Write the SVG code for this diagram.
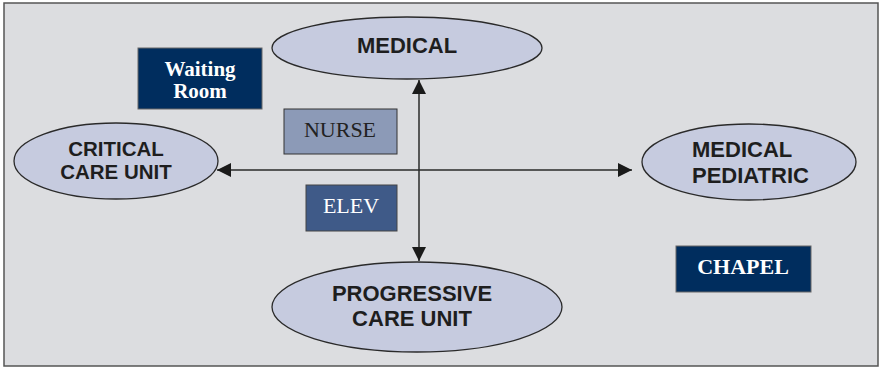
<svg xmlns="http://www.w3.org/2000/svg" width="881" height="369" viewBox="0 0 881 369">
<style>
.ell{fill:#c6cbdf;stroke:#2a2a2a;stroke-width:1.3}
.et{font-family:"Liberation Sans",Arial,sans-serif;font-weight:bold;font-size:22px;fill:#1e1e1e;text-anchor:middle}
.st{text-anchor:start}
.rt{font-family:"Liberation Serif","Times New Roman",serif;font-size:22px;text-anchor:middle}
.wr{font-size:21px;font-weight:bold;fill:#fff}
.conn{stroke:#2a2a2a;stroke-width:1.5;fill:none}
</style>
<defs>
<marker id="ahs" viewBox="0 0 10 10" refX="10" refY="5" markerWidth="14" markerHeight="14" markerUnits="userSpaceOnUse" orient="auto-start-reverse">
<path d="M0,0 L10,5 L0,10 z" fill="#1a1a1a"/>
</marker>
</defs>
<rect x="4" y="3" width="874" height="363" fill="#dcdde0" stroke="#555" stroke-width="1.5"/>
<g id="connectors">
<line class="conn" x1="419" y1="80" x2="419" y2="261" marker-start="url(#ahs)" marker-end="url(#ahs)"/>
<line class="conn" x1="217" y1="170" x2="632" y2="170" marker-start="url(#ahs)" marker-end="url(#ahs)"/>
</g>
<g id="waiting-room">
<rect x="138" y="48" width="124" height="61" fill="#002d5e" stroke="#666" stroke-width="1"/>
<text class="rt wr" x="200" y="76">Waiting</text>
<text class="rt wr" x="200" y="98">Room</text>
</g>
<g id="medical">
<ellipse class="ell" cx="407" cy="48" rx="135" ry="31"/>
<text class="et" x="407" y="53">MEDICAL</text>
</g>
<g id="nurse">
<rect x="284" y="109" width="113" height="45" fill="#8c9ab7" stroke="#333" stroke-width="1"/>
<text class="rt" x="340" y="137" fill="#222">NURSE</text>
</g>
<g id="critical-care-unit">
<ellipse class="ell" cx="116" cy="161" rx="102" ry="38"/>
<text class="et" x="116" y="156" style="font-size:20.5px">CRITICAL</text>
<text class="et" x="116" y="179" style="font-size:20.5px">CARE UNIT</text>
</g>
<g id="elev">
<rect x="306" y="185" width="91" height="46" fill="#3f5a88" stroke="#444" stroke-width="1"/>
<text class="rt" x="351" y="213" fill="#fff">ELEV</text>
</g>
<g id="medical-pediatric">
<ellipse class="ell" cx="749" cy="162" rx="107" ry="38"/>
<text class="et st" x="692" y="157" style="text-anchor:start">MEDICAL</text>
<text class="et st" x="692" y="183" style="text-anchor:start">PEDIATRIC</text>
</g>
<g id="chapel">
<rect x="676" y="246" width="135" height="46" fill="#002d5e" stroke="#666" stroke-width="1"/>
<text class="rt" x="743" y="274" fill="#fff" font-weight="bold">CHAPEL</text>
</g>
<g id="progressive-care-unit">
<ellipse class="ell" cx="417" cy="307" rx="145" ry="45"/>
<text class="et" x="412" y="301">PROGRESSIVE</text>
<text class="et" x="412" y="326">CARE UNIT</text>
</g>
</svg>
